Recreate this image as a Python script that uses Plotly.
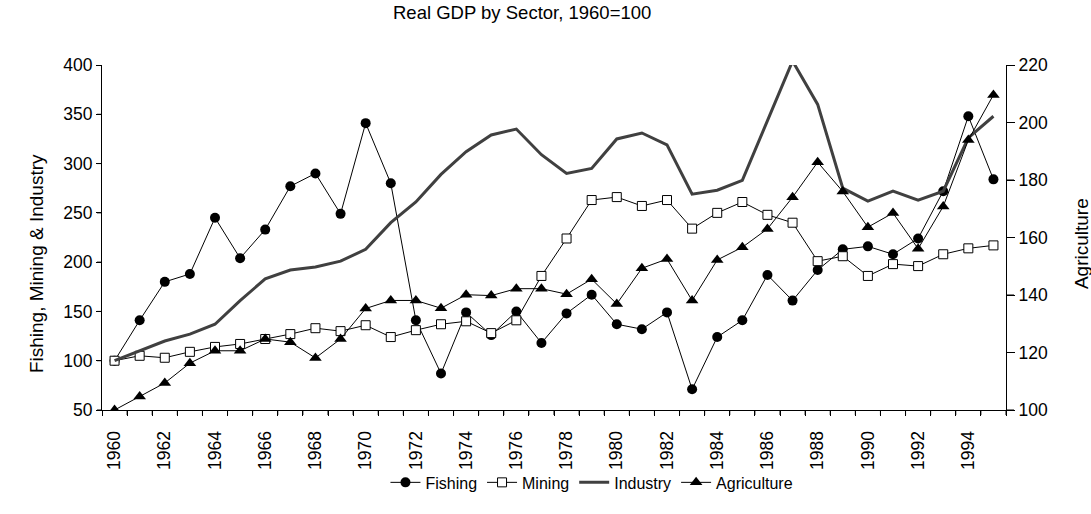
import plotly.graph_objects as go

years = list(range(1960, 1996))
fishing = [100, 141, 180, 188, 245, 204, 233, 277, 290, 249,
           341, 280, 141, 87, 149, 126, 150, 118, 148, 167,
           137, 132, 149, 71, 124, 141, 187, 161, 192, 213,
           216, 208, 224, 272, 348, 284]
mining = [100, 105, 103, 109, 114, 117, 122, 127, 133, 130,
          136, 124, 131, 137, 140, 128, 141, 186, 224, 263,
          266, 257, 263, 234, 250, 261, 248, 240, 201, 206,
          186, 198, 196, 208, 214, 217]
industry = [100, 110, 120, 127, 137, 161, 183, 192, 195, 201,
            213, 240, 261, 289, 312, 329, 335, 309, 290, 295,
            325, 331, 319, 269, 273, 283, 344, 404, 360, 275,
            262, 272, 263, 272, 326, 348]
agriculture = [100, 104.7, 109.4, 116.3, 120.6, 120.6, 124.7, 123.6, 118.1, 124.7,
               135.3, 138.1, 138.1, 135.4, 140.1, 139.8, 142.2, 142.2, 140.3, 145.5,
               136.9, 149.3, 152.5, 138.1, 152.2, 156.6, 163.0, 174.0, 186.2, 176.0,
               163.6, 168.5, 156.1, 170.8, 193.9, 209.6]
label_years = list(range(1960, 1995, 2))
left_ticks = list(range(50, 401, 50))
right_ticks = list(range(100, 221, 20))

FONT = "Liberation Sans, Arial, sans-serif"
boundaries = [y - 0.5 for y in years] + [years[-1] + 0.5]
xrange_ = [years[0] - 0.5, years[-1] + 0.5]
NBSP2 = "\u00a0\u00a0"
PLOT_W = 1091 - 102 - 85
PLOT_H = 514 - 65 - 104

fig = go.Figure()
fig.add_trace(go.Scatter(x=years, y=fishing, name="Fishing", mode="lines+markers",
                         line=dict(color="black", width=1),
                         marker=dict(symbol="circle", size=10, color="black")))
fig.add_trace(go.Scatter(x=years, y=mining, name="Mining", mode="lines+markers",
                         line=dict(color="black", width=1),
                         marker=dict(symbol="square", size=9, color="white",
                                     line=dict(color="black", width=1))))
fig.add_trace(go.Scatter(x=years, y=industry, name="Industry", mode="lines",
                         line=dict(color="#404040", width=3)))
fig.add_trace(go.Scatter(x=years, y=agriculture, name="Agriculture", mode="lines+markers",
                         xaxis="x2", yaxis="y2",
                         line=dict(color="black", width=1),
                         marker=dict(symbol="triangle-up", size=11, color="black")))

# tick marks drawn as axis decorations (x boundaries, y tick values)
tick_shapes = []
for b in boundaries:
    tick_shapes.append(dict(type="line", xref="x", yref="paper", x0=b, x1=b,
                            y0=0, y1=-5 / PLOT_H, layer="above",
                            line=dict(color="black", width=1)))
for v in left_ticks:
    tick_shapes.append(dict(type="line", xref="paper", yref="y", x0=0, x1=-5 / PLOT_W,
                            y0=v, y1=v, layer="above", line=dict(color="black", width=1)))
for v in right_ticks:
    tick_shapes.append(dict(type="line", xref="paper", yref="y2", x0=1, x1=1 + 8 / PLOT_W,
                            y0=v, y1=v, layer="above", line=dict(color="black", width=1)))

fig.update_layout(
    width=1091, height=514,
    margin=dict(l=102, r=85, t=65, b=104, autoexpand=False),
    paper_bgcolor="white", plot_bgcolor="white",
    font=dict(family=FONT, size=17, color="black"),
    showlegend=True,
    legend=dict(orientation="h", x=0.542, xanchor="center", y=-0.21, yanchor="middle",
                font=dict(size=16), traceorder="normal", itemwidth=30,
                bgcolor="rgba(0,0,0,0)"),
    xaxis=dict(range=xrange_, tickmode="array", tickvals=boundaries,
               showticklabels=False, ticks="outside", ticklen=5, tickwidth=1,
               tickcolor="black", showline=True, linecolor="black", linewidth=1,
               showgrid=False, zeroline=False, automargin=False),
    xaxis2=dict(range=xrange_, overlaying="x", anchor="y", side="bottom",
                tickmode="array", tickvals=label_years,
                ticktext=[str(y) for y in label_years], tickangle=-90,
                ticks="outside", ticklen=13, tickcolor="rgba(0,0,0,0)",
                showline=False, showgrid=False, zeroline=False,
                tickfont=dict(size=17.5), automargin=False),
    yaxis=dict(range=[50, 400], tickmode="array", tickvals=left_ticks,
               ticks="outside", ticklen=5,
               tickcolor="black", showline=True, linecolor="black", linewidth=1,
               showgrid=False, zeroline=False, tickfont=dict(size=17.5), automargin=False,
               ticksuffix=NBSP2),
    yaxis2=dict(range=[100, 220], tickmode="array", tickvals=right_ticks,
                overlaying="y", side="right",
                anchor="x", ticks="outside", ticklen=8, tickcolor="black",
                showline=True, linecolor="black", linewidth=1, automargin=False,
                showgrid=False, zeroline=False, tickfont=dict(size=17.5),
                tickprefix=NBSP2),
    shapes=tick_shapes,
    annotations=[
        dict(text="Real GDP by Sector, 1960=100", xref="paper", yref="paper",
             x=0.4646, y=1.151, xanchor="center", yanchor="middle",
             showarrow=False, font=dict(size=18.5)),
        dict(text="Fishing, Mining & Industry", xref="paper", yref="paper",
             x=-0.073, y=0.423, xanchor="center", yanchor="middle",
             textangle=-90, showarrow=False, font=dict(size=19)),
        dict(text="Agriculture", xref="paper", yref="paper",
             x=1.083, y=0.481, xanchor="center", yanchor="middle",
             textangle=-90, showarrow=False, font=dict(size=19)),
    ],
)

fig.write_html("out.html", config={"displayModeBar": False},
               post_script="document.body.style.margin='0px';")
